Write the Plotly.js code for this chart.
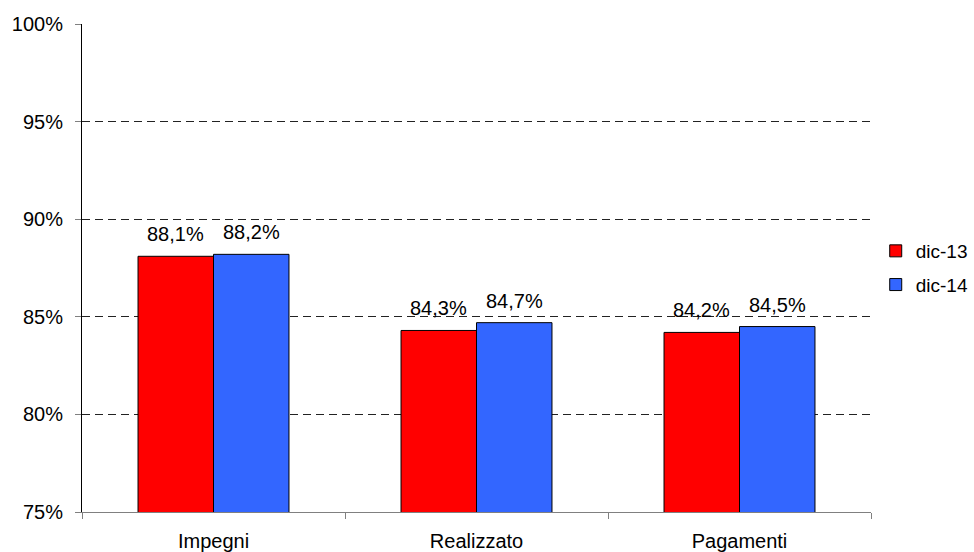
<!DOCTYPE html>
<html>
<head>
<meta charset="utf-8">
<script src="https://cdn.plot.ly/plotly-3.0.1.min.js"></script>
<style>html,body{margin:0;padding:0;background:#fff;}#chart{width:974px;height:552px;}</style>
</head>
<body>
<div id="chart"></div>
<script>
const categories = ["Impegni", "Realizzato", "Pagamenti"];
const seriesNames = ["dic-13", "dic-14"];
const dic13 = [0.881, 0.843, 0.842];
const dic14 = [0.882, 0.847, 0.845];
const yTickVals = [0.75, 0.80, 0.85, 0.90, 0.95, 1.00];

const font = "Liberation Sans, Arial, sans-serif";
const FS = 20;
function bar(name, y, color, group) {
  return {
    type: "bar", name: name, x: categories, y: y,
    legendgroup: group,
    marker: {color: color, line: {color: "#000", width: 1}},
    hoverinfo: "skip"
  };
}
const data = [bar(seriesNames[0], dic13, "#FF0000", "a"), bar(seriesNames[1], dic14, "#3366FF", "b")];

function fmt(v) { return (v * 100).toFixed(1).replace(".", ",") + "%"; }
const annotations = [];
[[dic13, -38], [dic14, 38]].forEach(function (s) {
  s[0].forEach(function (v, i) {
    annotations.push({
      x: categories[i], y: v, xref: "x", yref: "y",
      xshift: s[1], yshift: 22, yanchor: "middle", xanchor: "center",
      text: fmt(v), showarrow: false,
      font: {family: font, size: FS, color: "#000"}
    });
  });
});

const layout = {
  width: 974, height: 552,
  margin: {l: 82, r: 103, t: 24, b: 40, autoexpand: false},
  paper_bgcolor: "#fff", plot_bgcolor: "#fff",
  barmode: "group", bargap: 0.426, bargroupgap: 0,
  font: {family: font, size: FS, color: "#000"},
  showlegend: true,
  annotations: annotations,
  legend: {x: 1.006, y: 0.5, xanchor: "left", yanchor: "middle",
    font: {family: font, size: 19, color: "#000"}, traceorder: "grouped", tracegroupgap: 6,
    itemwidth: 30},
  xaxis: {
    showgrid: false, showline: true, linecolor: "#808080", linewidth: 1,
    ticks: "outside", tickson: "boundaries", ticklen: 6, tickcolor: "#808080",
    ticklabelstandoff: 11,
    tickfont: {family: font, size: FS, color: "#000"}, fixedrange: true
  },
  yaxis: {
    range: [0.75, 1.0], tickvals: yTickVals, tickformat: ".0%",
    showgrid: true, gridcolor: "#222", griddash: "8px,5px", gridwidth: 1,
    showline: true, linecolor: "#000", linewidth: 1, zeroline: false,
    ticks: "outside", ticklen: 6, tickcolor: "#808080",
    ticklabelstandoff: 8,
    tickfont: {family: font, size: FS, color: "#000"}, fixedrange: true
  }
};
Plotly.newPlot("chart", data, layout, {staticPlot: true});
</script>
</body>
</html>
